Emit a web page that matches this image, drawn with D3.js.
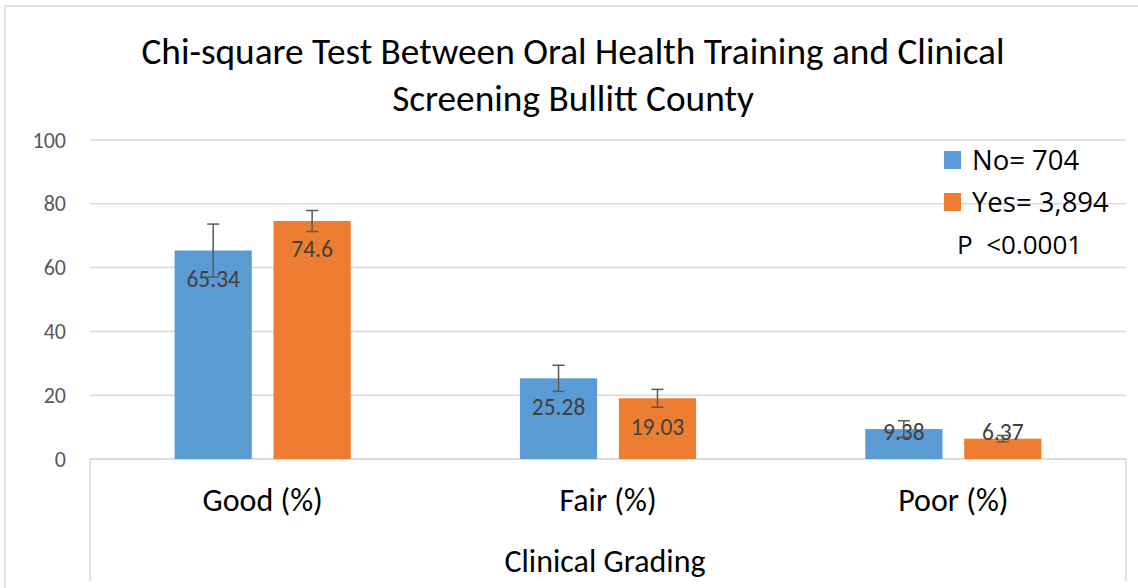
<!DOCTYPE html>
<html>
<head>
<meta charset="utf-8">
<script src="https://cdn.jsdelivr.net/npm/d3@7"></script>
<style>
    body { margin: 0; background: #fff; }
    svg { display: block; font-family: Carlito, Lato, sans-serif; }
</style>
</head>
<body>
<svg width="1138" height="588"></svg>
<script>
const categories = ['Good (%)', 'Fair (%)', 'Poor (%)'];
const seriesNames = ['No= 704', 'Yes= 3,894'];
const noValues = [65.34, 25.28, 9.38];
const yesValues = [74.6, 19.03, 6.37];
const noErrors = [8.3, 4.1, 2.6];
const yesErrors = [3.3, 2.8, 1.0];
const yTicks = [0, 20, 40, 60, 80, 100];
const titleLines = ['Chi-square Test Between Oral Health Training and Clinical', 'Screening Bullitt County'];
const pValueText = 'P  <0.0001';
const axisTitle = 'Clinical Grading';

const colors = ['#5b9bd5', '#ed7d31'];
const grid = '#d9d9d9';

const rows = categories.map((c, i) => ({
    category: c,
    values: [
        { key: seriesNames[0], value: noValues[i], err: noErrors[i] },
        { key: seriesNames[1], value: yesValues[i], err: yesErrors[i] }
    ]
}));

const svg = d3.select('svg');
const plot = { left: 90, right: 1126, top: 140, bottom: 459 };

// outer chart border (left / top visible)
svg.append('path')
    .attr('d', 'M5,588V6H1138')
    .style('fill', 'none')
    .style('stroke', grid)
    .style('stroke-width', 1.5);

const x0 = d3.scaleBand()
    .domain(categories)
    .range([plot.left, plot.right]);

const x1 = d3.scaleBand()
    .domain(seriesNames)
    .range([0, x0.bandwidth()])
    .paddingInner(0.22)
    .paddingOuter(0.855);

const y = d3.scaleLinear()
    .domain([0, 100])
    .range([plot.bottom, plot.top]);

// gridlines
svg.append('g')
    .attr('class', 'grid')
    .selectAll('line')
    .data(yTicks)
    .enter()
    .append('line')
    .attr('x1', plot.left)
    .attr('x2', plot.right)
    .attr('y1', d => y(d))
    .attr('y2', d => y(d))
    .style('stroke', grid)
    .style('stroke-width', 1.5);

// y axis labels
const yAxis = svg.append('g')
    .attr('transform', 'translate(66,0)')
    .call(d3.axisLeft(y).tickValues(yTicks).tickSize(0).tickPadding(0));
yAxis.select('.domain').remove();
yAxis.selectAll('text')
    .style('font-family', 'Carlito, Lato, sans-serif')
    .style('font-size', '22px')
    .style('fill', '#595959');

// category axis box
svg.append('path')
    .attr('d', `M${plot.left},581V${plot.bottom}H${plot.right}V581`)
    .style('fill', 'none')
    .style('stroke', grid)
    .style('stroke-width', 1.5);

const group = svg.append('g')
    .selectAll('.group')
    .data(rows)
    .enter()
    .append('g')
    .attr('class', 'group')
    .attr('transform', d => `translate(${x0(d.category)},0)`);

const bar = group.selectAll('.bar')
    .data(d => d.values)
    .enter()
    .append('g')
    .attr('class', 'bar');

bar.append('rect')
    .attr('x', d => x1(d.key))
    .attr('y', d => y(d.value))
    .attr('width', x1.bandwidth())
    .attr('height', d => y(0) - y(d.value))
    .style('fill', (d, i) => colors[i]);

// data labels (inside end)
bar.append('text')
    .text(d => d.value)
    .attr('x', d => x1(d.key) + x1.bandwidth() / 2)
    .attr('y', d => Math.min(y(d.value) + 28, y(0) - 27))
    .attr('dy', '0.35em')
    .attr('text-anchor', 'middle')
    .style('font-size', '23.5px')
    .style('fill', '#404040');

// error bars
const cap = 6;
const errorBar = bar.append('g')
    .style('stroke', '#595959')
    .style('stroke-width', 1.5);

errorBar.append('line')
    .attr('x1', d => x1(d.key) + x1.bandwidth() / 2)
    .attr('x2', d => x1(d.key) + x1.bandwidth() / 2)
    .attr('y1', d => y(d.value + d.err))
    .attr('y2', d => y(d.value - d.err));

errorBar.selectAll('.cap')
    .data(d => [d.value + d.err, d.value - d.err].map(v => ({ v, cx: x1(d.key) + x1.bandwidth() / 2 })))
    .enter()
    .append('line')
    .attr('class', 'cap')
    .attr('x1', d => d.cx - cap)
    .attr('x2', d => d.cx + cap)
    .attr('y1', d => y(d.v))
    .attr('y2', d => y(d.v));

// category labels
svg.append('g')
    .selectAll('text')
    .data(categories)
    .enter()
    .append('text')
    .text(d => d)
    .attr('x', d => x0(d) + x0.bandwidth() / 2)
    .attr('y', 500)
    .attr('dy', '0.35em')
    .attr('text-anchor', 'middle')
    .style('font-size', '32px')
    .style('fill', '#000');

svg.append('text')
    .text(axisTitle)
    .attr('x', (plot.left + plot.right) / 2 - 3)
    .attr('y', 561)
    .attr('dy', '0.35em')
    .attr('text-anchor', 'middle')
    .style('font-size', '32px')
    .style('fill', '#000');

// title
svg.append('g')
    .selectAll('text')
    .data(titleLines)
    .enter()
    .append('text')
    .text(d => d)
    .attr('x', 573)
    .attr('y', (d, i) => 51 + i * 47)
    .attr('dy', '0.35em')
    .attr('text-anchor', 'middle')
    .style('font-size', '37.3px')
    .style('fill', '#000');

// legend
const legend = svg.append('g')
    .attr('transform', 'translate(944,151)')
    .style('font-family', '"Open Sans", sans-serif');

const legendItem = legend.selectAll('.item')
    .data(seriesNames)
    .enter()
    .append('g')
    .attr('class', 'item')
    .attr('transform', (d, i) => `translate(0,${i * 42})`);

legendItem.append('rect')
    .attr('width', 17)
    .attr('height', 18)
    .style('fill', (d, i) => colors[i]);

legendItem.append('text')
    .text(d => d)
    .attr('x', 28)
    .attr('y', 9)
    .attr('dy', '0.35em')
    .style('font-size', '27.5px')
    .style('fill', '#000');

legend.append('text')
    .text(pValueText)
    .attr('x', 13)
    .attr('y', 94)
    .attr('dy', '0.35em')
    .style('font-size', '26px')
    .style('fill', '#000')
    .style('white-space', 'pre');
</script>
</body>
</html>
